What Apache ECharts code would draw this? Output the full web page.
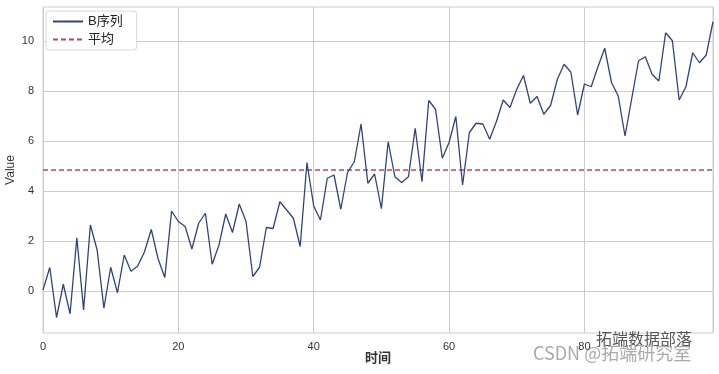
<!DOCTYPE html>
<html>
<head>
<meta charset="utf-8">
<script src="https://cdn.jsdelivr.net/npm/echarts@6/dist/echarts.min.js"></script>
<style>
  html, body { margin: 0; padding: 0; background: #fff; }
  #main { width: 719px; height: 374px; }
</style>
</head>
<body>
<div id="main"></div>
<script>
// B序列, 时间 0..99
var seriesB = [
  0.05, 0.95, -1.05, 0.28, -0.9, 2.14, -0.75, 2.65, 1.65, -0.68,
  0.96, -0.06, 1.45, 0.8, 1.01, 1.58, 2.47, 1.3, 0.55, 3.21,
  2.79, 2.59, 1.69, 2.72, 3.12, 1.08, 1.85, 3.09, 2.35, 3.49,
  2.79, 0.59, 0.96, 2.55, 2.51, 3.58, 3.25, 2.92, 1.79, 5.15,
  3.41, 2.85, 4.52, 4.65, 3.28, 4.75, 5.18, 6.69, 4.32, 4.69,
  3.3, 5.98, 4.58, 4.35, 4.58, 6.52, 4.38, 7.63, 7.28, 5.32,
  5.95, 6.99, 4.25, 6.35, 6.72, 6.69, 6.08, 6.79, 7.65, 7.35,
  8.08, 8.63, 7.52, 7.79, 7.08, 7.43, 8.48, 9.08, 8.76, 7.05,
  8.29, 8.18, 8.98, 9.72, 8.35, 7.81, 6.21, 7.72, 9.22, 9.38,
  8.68, 8.41, 10.34, 10.02, 7.65, 8.18, 9.54, 9.14, 9.45, 10.78
];
var meanValue = 4.85;
var xTicks = [0, 20, 40, 60, 80];
var yTicks = [0, 2, 4, 6, 8, 10];

var chart = echarts.init(document.getElementById('main'));

var lineData = seriesB.map(function (v, i) { return [i, v]; });
var meanData = [[0, meanValue], [seriesB.length - 1, meanValue]];

var fontFam = '"Liberation Sans", "Noto Sans CJK SC", sans-serif';

chart.setOption({
  backgroundColor: '#ffffff',
  animation: false,
  textStyle: { fontFamily: fontFam },
  grid: {
    left: 43, right: 6, top: 7, bottom: 41,
    containLabel: false,
    outerBoundsMode: 'none',
    show: true, borderColor: '#cccccc', borderWidth: 1,
    backgroundColor: 'transparent'
  },
  legend: {
    left: 46, top: 11,
    orient: 'vertical',
    itemGap: 5,
    itemWidth: 30, itemHeight: 10,
    padding: [4, 14, 4, 6],
    borderColor: '#d8d8d8', borderWidth: 1, borderRadius: 3,
    backgroundColor: '#ffffff',
    itemStyle: { opacity: 0 },
    textStyle: { fontSize: 13, color: '#222', fontFamily: fontFam },
    data: ['B序列', '平均']
  },
  xAxis: {
    type: 'value',
    min: 0, max: 99, interval: 20,
    name: '时间',
    nameLocation: 'middle',
    nameGap: 19,
    nameMoveOverlap: false,
    nameTextStyle: { fontSize: 13, fontWeight: 'bold', color: '#333', fontFamily: fontFam },
    axisLine: { show: false },
    axisTick: { show: false },
    axisLabel: {
      customValues: xTicks,
      fontSize: 11, color: '#333', margin: 8
    },
    splitLine: { show: true, lineStyle: { color: '#cccccc', width: 1 } }
  },
  yAxis: {
    type: 'value',
    min: -1.67, max: 11.37,
    name: 'Value',
    nameLocation: 'middle',
    nameGap: 26,
    nameMoveOverlap: false,
    nameRotate: 90,
    nameTextStyle: { fontSize: 12, color: '#333', fontFamily: fontFam },
    axisLine: { show: false },
    axisTick: { show: false, customValues: yTicks },
    axisLabel: {
      customValues: yTicks,
      fontSize: 11, color: '#333', margin: 9
    },
    splitLine: { show: true, lineStyle: { color: '#cccccc', width: 1 } }
  },
  series: [
    {
      name: 'B序列',
      type: 'line',
      data: lineData,
      showSymbol: false,
      symbol: 'none',
      lineStyle: { color: '#34427a', width: 1.3 },
      itemStyle: { color: '#34427a' },
      z: 3
    },
    {
      name: '平均',
      type: 'line',
      data: meanData,
      showSymbol: false,
      symbol: 'none',
      lineStyle: { color: '#b04a5c', width: 1.5, type: [5, 3] },
      itemStyle: { color: '#b04a5c' },
      z: 2
    }
  ],
  graphic: [
    {
      type: 'text', left: 596, top: 331,
      style: { text: '拓端数据部落', fill: '#555', font: '16px "Noto Sans CJK SC", sans-serif' }
    },
    {
      type: 'text', left: 533, top: 344,
      style: { text: 'CSDN @拓端研究室', fill: '#aaaaaa', font: '18px "Noto Sans CJK SC", sans-serif' }
    }
  ]
});
</script>
</body>
</html>
